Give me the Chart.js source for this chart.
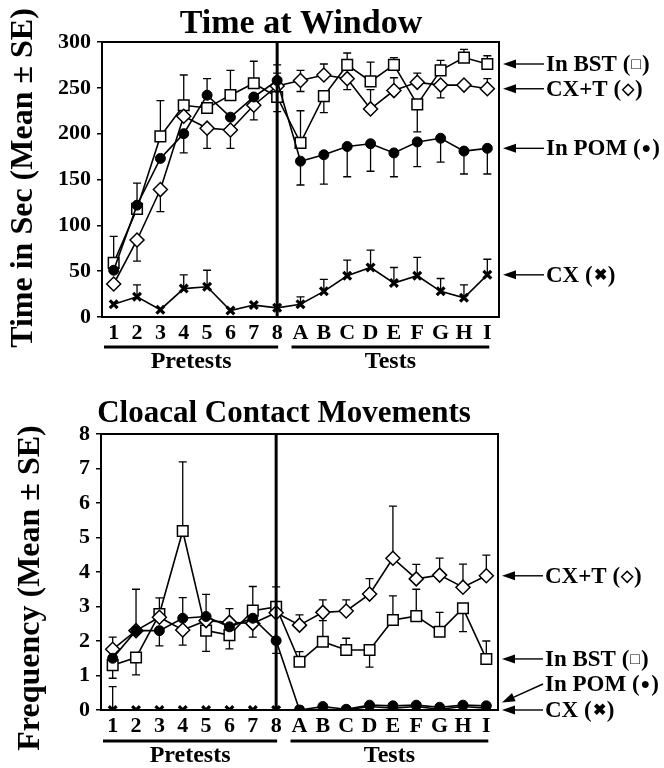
<!DOCTYPE html>
<html>
<head>
<meta charset="utf-8">
<script src="https://cdn.jsdelivr.net/npm/chart.js@4.4.1/dist/chart.umd.min.js"></script>
<style>
  body { margin: 0; background: #fff; }
  .panel { position: absolute; left: 0; width: 664px; height: 384px; }
</style>
</head>
<body>
<div class="panel" style="top:0"><canvas id="windowChart" width="664" height="384"></canvas></div>
<div class="panel" style="top:384px"><canvas id="contactChart" width="664" height="384"></canvas></div>
<script>
const days = ['1', '2', '3', '4', '5', '6', '7', '8', 'A', 'B', 'C', 'D', 'E', 'F', 'G', 'H', 'I'];

// time at window, seconds (mean, +SE, -SE)
const bstTime     = [59, 118, 197, 231, 228, 242, 255, 240, 190, 241, 275, 257, 275, 232, 269, 283, 276];
const bstTimeUp   = [29, 28, 39, 33, 0, 27, 24, 0, 35, 0, 13, 21, 8, 0, 11, 9, 9];
const bstTimeDown = [0, 0, 0, 0, 0, 0, 0, 16, 0, 18, 0, 0, 0, 30, 0, 0, 0];
const cxtTime     = [36, 84, 139, 219, 206, 204, 231, 252, 258, 264, 260, 227, 247, 256, 253, 253, 249];
const cxtTimeUp   = [0, 0, 0, 0, 0, 0, 0, 14, 11, 12, 0, 21, 14, 10, 0, 0, 11];
const cxtTimeDown = [0, 23, 24, 0, 22, 20, 16, 0, 12, 0, 12, 0, 0, 0, 14, 0, 0];
const pomTime     = [51, 122, 173, 200, 242, 218, 240, 258, 170, 177, 186, 189, 179, 191, 195, 181, 184];
const pomTimeUp   = [0, 0, 0, 0, 18, 0, 0, 17, 0, 0, 0, 0, 0, 0, 0, 0, 0];
const pomTimeDown = [0, 0, 0, 21, 0, 0, 0, 0, 26, 32, 33, 30, 26, 27, 26, 25, 28];
const cxTime      = [14, 22, 8, 31, 33, 7, 13, 10, 14, 28, 45, 54, 37, 45, 28, 21, 46];
const cxTimeUp    = [0, 13, 0, 15, 18, 0, 0, 0, 8, 13, 17, 19, 17, 20, 14, 14, 17];

// cloacal contact movements, frequency
const bstFreq     = [1.30, 1.52, 2.78, 5.19, 2.30, 2.17, 2.88, 2.99, 1.40, 1.98, 1.74, 1.74, 2.61, 2.72, 2.27, 2.95, 1.48];
const bstFreqUp   = [0, 0, 0.47, 2.0, 0, 0, 0.7, 0.58, 0.29, 0.61, 0.34, 0, 0.7, 0.78, 0.56, 0, 0.52];
const bstFreqDown = [0.38, 0.5, 0, 0, 0.6, 0.4, 0, 0, 0, 0, 0, 0.5, 0, 0, 0, 0.68, 0];
const cxtFreq     = [1.76, 2.30, 2.69, 2.32, 2.59, 2.54, 2.51, 2.82, 2.46, 2.83, 2.87, 3.36, 4.40, 3.80, 3.91, 3.56, 3.89];
const cxtFreqUp   = [0.35, 1.2, 0, 0, 0, 0.4, 0, 0, 0.3, 0.36, 0.32, 0.45, 1.51, 0.42, 0.49, 0.67, 0.6];
const cxtFreqDown = [0, 0, 0, 0.44, 0, 0, 0.4, 0, 0, 0, 0, 0, 0, 0, 0, 0, 0];
const pomFreq     = [1.50, 2.30, 2.30, 2.66, 2.71, 2.41, 2.66, 2.01, 0, 0.10, 0.02, 0.14, 0.12, 0.14, 0.08, 0.14, 0.12];
const pomFreqUp   = [0, 0, 0, 0.6, 0.64, 0, 0, 0, 0, 0, 0, 0, 0, 0, 0, 0, 0];
const pomFreqDown = [0, 0, 0.44, 0, 0, 0, 0, 0.37, 0, 0, 0, 0, 0, 0, 0, 0, 0];
const cxFreq      = [0, 0, 0, 0, 0, 0, 0, 0, 0, 0.02, 0, 0.1, 0.05, 0.1, 0.02, 0.1, 0.05];
const cxFreqUp    = [0.68, 0, 0, 0, 0, 0, 0, 0, 0, 0, 0, 0, 0, 0, 0, 0, 0];

const SERIF = "'Liberation Serif', 'Times New Roman', serif";

function arrow(ctx, x1, y1, x2, y2) {
  const a = Math.atan2(y2 - y1, x2 - x1);
  const len = 13, half = 4.5;
  const bx = x2 - Math.cos(a) * len, by = y2 - Math.sin(a) * len;
  ctx.beginPath();
  ctx.moveTo(x1, y1);
  ctx.lineTo(bx, by);
  ctx.stroke();
  ctx.beginPath();
  ctx.moveTo(x2, y2);
  ctx.lineTo(bx + Math.sin(a) * half, by - Math.cos(a) * half);
  ctx.lineTo(bx - Math.sin(a) * half, by + Math.cos(a) * half);
  ctx.closePath();
  ctx.fill();
}

// "Name (sym)" with the marker symbol set smaller than the words
function seriesLabel(ctx, text, x, y) {
  const m = text.match(/^(.*\()(.)(\))$/);
  const big = 'bold 23px ' + SERIF, small = 'bold 16px ' + SERIF;
  ctx.font = big;
  ctx.fillText(m[1], x, y);
  x += ctx.measureText(m[1]).width + 1;
  ctx.font = small;
  ctx.fillText(m[2], x, y);
  x += ctx.measureText(m[2]).width + 1;
  ctx.font = big;
  ctx.fillText(m[3], x, y);
}

function makeDecor(o) {
  return {
    id: 'decor',
    beforeDatasetsDraw(chart) {
      const { ctx, scales: { x, y } } = chart;
      ctx.save();
      ctx.strokeStyle = '#000';
      ctx.lineWidth = 1.3;
      chart.data.datasets.forEach(ds => {
        ds.data.forEach((v, i) => {
          const px = x.getPixelForValue(i);
          const py = y.getPixelForValue(v);
          [[ds.errUp, 1], [ds.errDown, -1]].forEach(([arr, dir]) => {
            const e = arr ? arr[i] : 0;
            if (!e) return;
            const end = y.getPixelForValue(v + dir * e);
            ctx.beginPath();
            ctx.moveTo(px, py);
            ctx.lineTo(px, end);
            ctx.moveTo(px - 4, end);
            ctx.lineTo(px + 4, end);
            ctx.stroke();
          });
        });
      });
      ctx.restore();
    },
    afterDraw(chart) {
      const { ctx, chartArea: ca, scales: { x, y } } = chart;
      ctx.save();
      ctx.strokeStyle = '#000';
      ctx.fillStyle = '#000';

      // frame + pretest/test divider
      ctx.lineWidth = 2;
      ctx.strokeRect(ca.left, ca.top, ca.right - ca.left, ca.bottom - ca.top);
      ctx.lineWidth = 3;
      const xd = x.getPixelForValue(7);
      ctx.beginPath();
      ctx.moveTo(xd, ca.top);
      ctx.lineTo(xd, ca.bottom);
      ctx.stroke();

      // group underlines
      const preL = ca.left + 2, preR = xd + 1;
      const tstL = x.getPixelForValue(8) - 9, tstR = x.getPixelForValue(16) + 2;
      ctx.lineWidth = 3;
      ctx.beginPath();
      ctx.moveTo(preL, o.groupY); ctx.lineTo(preR, o.groupY);
      ctx.moveTo(tstL, o.groupY); ctx.lineTo(tstR, o.groupY);
      ctx.stroke();
      ctx.font = 'bold 24px ' + SERIF;
      ctx.textAlign = 'center';
      ctx.textBaseline = 'alphabetic';
      ctx.fillText('Pretests', (preL + preR) / 2, o.groupY + 21);
      ctx.fillText('Tests', (tstL + tstR) / 2, o.groupY + 21);

      // titles
      ctx.font = 'bold ' + o.titleSize + 'px ' + SERIF;
      ctx.fillText(o.title, o.titleX, o.titleY);
      ctx.font = 'bold 32px ' + SERIF;
      ctx.save();
      ctx.translate(o.yTitleX, o.yTitleY);
      ctx.rotate(-Math.PI / 2);
      ctx.textBaseline = 'middle';
      ctx.fillText(o.yTitle, 0, 0);
      ctx.restore();

      // series labels on the right
      ctx.textAlign = 'left';
      ctx.textBaseline = 'middle';
      ctx.lineWidth = 1.4;
      o.labels.forEach(l => {
        const tipY = y.getPixelForValue(l.at);
        const textY = l.textY !== undefined ? l.textY : tipY;
        arrow(ctx, ca.right + 45, textY, ca.right + 4, tipY);
        seriesLabel(ctx, l.text, ca.right + 47, textY + 1);
      });
      ctx.restore();
    }
  };
}

function series(data, up, down, kind) {
  const styles = {
    bst: { pointStyle: 'rect', pointRadius: 7.5, pointBackgroundColor: '#fff', pointBorderWidth: 1.5 },
    cxt: { pointStyle: 'rectRot', pointRadius: 7, pointBackgroundColor: '#fff', pointBorderWidth: 1.5 },
    pom: { pointStyle: 'circle', pointRadius: 5, pointBackgroundColor: '#000', pointBorderWidth: 1 },
    cx:  { pointStyle: 'crossRot', pointRadius: 5.5, pointBackgroundColor: '#000', pointBorderWidth: 3.2 }
  };
  return Object.assign({
    data: data, errUp: up, errDown: down,
    borderColor: '#000', borderWidth: 1.6, pointBorderColor: '#000', tension: 0
  }, styles[kind]);
}

function buildChart(id, o) {
  return new Chart(document.getElementById(id), {
    type: 'line',
    data: { labels: days, datasets: o.datasets },
    options: {
      responsive: false,
      animation: false,
      layout: { padding: { top: o.top, right: o.right, left: 0, bottom: 0 } },
      plugins: { legend: { display: false }, tooltip: { enabled: false } },
      scales: {
        x: {
          offset: true,
          grid: { display: false, drawTicks: false },
          border: { color: '#000', width: 2 },
          ticks: { color: '#000', font: { family: SERIF, size: 22, weight: 'bold' }, padding: 3, autoSkip: false, maxRotation: 0 },
          afterFit(s) { s.height = o.xh; }
        },
        y: {
          min: 0,
          max: o.max,
          ticks: {
            stepSize: o.step / 2,
            color: '#000',
            font: { family: SERIF, size: 22, weight: 'bold' },
            padding: 6,
            callback: v => (Math.abs(v / o.step - Math.round(v / o.step)) < 1e-6 ? v : '')
          },
          grid: { drawOnChartArea: false, color: '#000', tickLength: 5, lineWidth: 1.5 },
          border: { color: '#000', width: 2 },
          afterFit(s) { s.width = o.yw; }
        }
      }
    },
    plugins: [makeDecor(o)]
  });
}

buildChart('windowChart', {
  top: 42, right: 165, yw: 102, xh: 67, max: 300, step: 50,
  groupY: 347, title: 'Time at Window', titleSize: 34, titleX: 301, titleY: 33,
  yTitle: 'Time in Sec (Mean ± SE)', yTitleX: 24, yTitleY: 178,
  datasets: [
    series(cxTime, cxTimeUp, null, 'cx'),
    series(pomTime, pomTimeUp, pomTimeDown, 'pom'),
    series(cxtTime, cxtTimeUp, cxtTimeDown, 'cxt'),
    series(bstTime, bstTimeUp, bstTimeDown, 'bst')
  ],
  labels: [
    { text: 'In BST (□)', at: bstTime[16] },
    { text: 'CX+T (◇)', at: cxtTime[16] },
    { text: 'In POM (●)', at: pomTime[16] },
    { text: 'CX (✖)', at: cxTime[16] }
  ]
});

buildChart('contactChart', {
  top: 50, right: 166, yw: 101, xh: 58, max: 8, step: 1,
  groupY: 357, title: 'Cloacal Contact Movements', titleSize: 31, titleX: 284, titleY: 38,
  yTitle: 'Frequency (Mean ± SE)', yTitleX: 31, yTitleY: 204,
  datasets: [
    series(cxFreq, cxFreqUp, null, 'cx'),
    series(pomFreq, pomFreqUp, pomFreqDown, 'pom'),
    series(cxtFreq, cxtFreqUp, cxtFreqDown, 'cxt'),
    series(bstFreq, bstFreqUp, bstFreqDown, 'bst')
  ],
  labels: [
    { text: 'CX+T (◇)', at: cxtFreq[16] },
    { text: 'In BST (□)', at: bstFreq[16] },
    { text: 'In POM (●)', at: pomFreq[16] + 0.1, textY: 300 },
    { text: 'CX (✖)', at: 0 }
  ]
});
</script>
</body>
</html>
